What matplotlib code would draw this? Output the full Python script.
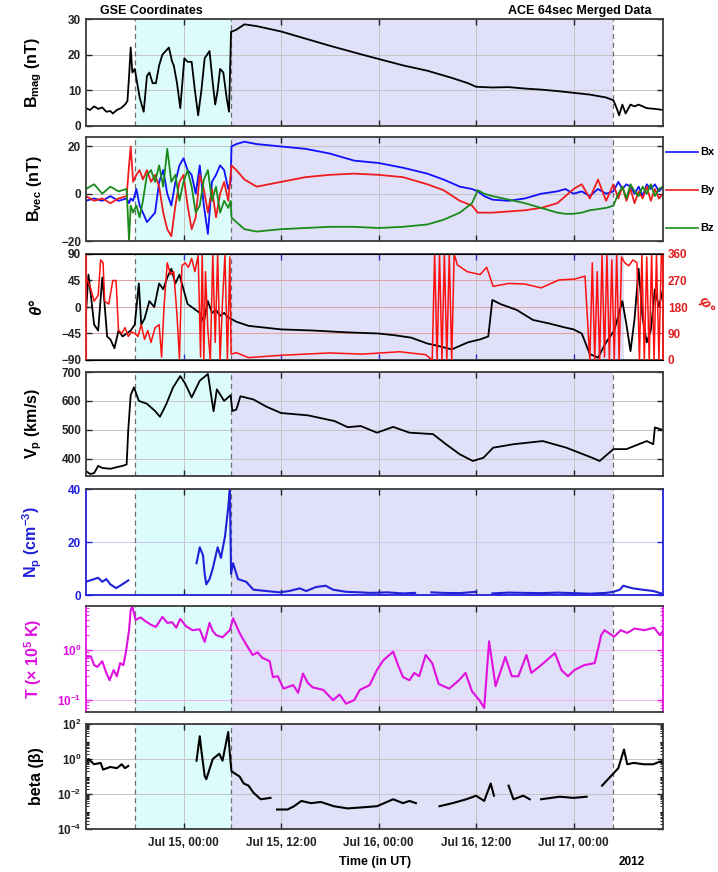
import numpy as np
import matplotlib
matplotlib.use('Agg')
import matplotlib.pyplot as plt
import matplotlib.dates as mdates
from matplotlib.lines import Line2D
from matplotlib.ticker import NullFormatter, LogLocator

plt.rcParams['font.family'] = ['Liberation Sans', 'DejaVu Sans']
plt.rcParams['font.weight'] = 'bold'
plt.rcParams['axes.labelweight'] = 'bold'
plt.rcParams['mathtext.default'] = 'regular'

# hours after 2012-07-14 12:00 UT
base = np.datetime64('2012-07-14T12:00')
t_end = 71.0
shock_t = 6.0
mc_start = 17.85
mc_end = 64.9

def hrs(h):
    return base + (np.asarray(h, float) * 3600).astype('timedelta64[s]')

# ---- data ----
bmag_t = [0, 0.5, 1, 1.5, 2, 2.5, 3, 3.3, 3.8, 4.3, 4.8, 5.1, 5.3, 5.5, 5.7, 6, 6.3, 6.6, 7.1, 7.5,
          7.8, 8.2, 8.6, 9, 9.4, 9.8, 10.2, 10.6, 10.8, 11.2, 11.6, 12.1, 12.5, 13, 13.4, 13.8, 14.2,
          14.6, 15.2, 15.6, 15.9, 16.2, 16.5, 16.9, 17.3, 17.6, 17.85, 18.0, 18.5, 19.5, 21, 24, 27,
          30, 34, 36, 39, 42, 45, 47, 48, 50, 52, 54, 56, 58, 60, 62, 64, 64.9, 65.3, 65.6, 66, 66.4,
          67, 67.5, 68, 69, 70, 71]
bmag = [5, 4.5, 5.5, 4.8, 5.2, 4, 4.2, 3.5, 4.5, 5, 6, 7, 14, 22, 15, 16, 12, 8, 4, 14,
        15, 12, 12, 17, 20, 21, 22, 18, 17, 12, 5, 19, 18, 18, 10, 3, 10,
        19, 21, 12, 6, 10, 16, 15, 8, 4, 26.5, 26.5, 27, 28.5, 28, 26.5, 24.5,
        22.5, 20, 18.8, 17, 15.5, 13.5, 12, 11, 10.8, 10.9, 10.5, 10.2, 9.8, 9.3, 8.8, 8, 7.2, 5, 3, 6, 3.5,
        6, 5.5, 6, 5, 4.8, 4.5]

bvec_t = [0, 1, 2, 3, 4, 5, 5.3, 5.5, 5.8, 6.2, 6.6, 7.0, 7.5, 8.0, 8.5, 9.0, 9.5, 10.0, 10.5, 11.0,
          11.5, 12.0, 12.5, 13.0, 13.5, 14.0, 14.5, 15.0, 15.5, 16.0, 16.5, 17.0, 17.5, 17.8, 17.9,
          18.5, 19.5, 21, 24, 27, 30, 33, 36, 39, 42, 44, 46, 47.5, 48.2, 49, 50, 52, 54, 56, 58, 59,
          60, 61, 62, 63, 64, 64.9, 65.5, 66, 66.5, 67, 67.5, 68, 68.5, 69, 69.5, 70, 70.5, 71]
bx = [-3, -2, -3, -1, -3, -2, -4, -2, -3, 2, -5, -8, -12, -10, -8, 5, 10, 0, -5, 5,
      12, 15, 10, 8, 0, 12, -5, -17, 5, 8, 12, 10, 2, 5, 20,
      21, 22, 21, 20, 19, 17, 14, 13, 11, 8.5, 6, 3, 2, 1, -1, -2.5, -3, -2, 0, 1, 2,
      0, 1, -1, 2, 0, 1, 5, 2, 4, 3, 0, 3, -1, 4, 2, 4, 1, 3]
by = [-1, -3, -2, -4, -2, -1, 12, 20, 5, 8, 10, 6, 10, 5, 8, 3, -8, -15, -18, -5,
      5, 8, -5, -15, -10, 8, 2, -8, 2, -10, 0, 5, -3, 8, 12,
      10, 6, 3, 5, 7, 8, 8.5, 8, 7, 4, 1.5, -3, -5, -8, -8, -8, -7.5, -7, -6, -4, -1,
      2, 4, -2, 6, -3, 4, -2, 3, -3, 2, -4, 1, -2, 3, -3, 2, -2, 0]
bz = [2, 4, 0, 3, 1, 2, -20, -5, -8, -5, -10, -3, 8, 10, 5, 12, 3, 19, 5, 8,
      -3, 5, 10, 3, -8, -5, 6, 10, -3, 3, -8, -3, -6, -3, -10,
      -12, -15, -16, -15, -14.5, -14, -14, -14.5, -14, -13, -11, -8, -4, 1.5, 0, -1, -2.5, -4, -6, -8, -8.5,
      -8.5, -8, -7, -6.5, -6, -5, 0, 3, -2, 4, 1, -1, 3, 0, 4, -1, 2, 3]

theta_t = [0, 0.3, 0.6, 1, 1.5, 2, 2.2, 2.6, 3, 3.5, 4, 4.5, 5, 5.5, 6, 6.5, 6.8, 7.2, 7.8, 8.4,
           9, 9.5, 10, 10.5, 11, 11.5, 12, 12.5, 13, 13.5, 14, 14.5, 15, 15.5, 16, 16.5, 17, 17.5,
           17.85, 18.5, 20, 24, 28, 32, 36, 38, 40, 42, 43, 45, 47, 48.5, 49.5, 50, 51, 53, 55, 57,
           59, 60, 61, 62, 63, 64, 65, 66, 66.5, 67, 67.5, 68, 68.5, 69, 69.5, 70, 70.5, 71]
theta = [-10, 55, 20, -30, -40, 50, 20, -50, -55, -70, -40, -50, -45, -40, -30, 40, -30, -20, 10, 0,
         40, 30, 50, 65, 40, 55, 30, 5, 0, -5, -10, -25, 10, -10, -5, -15, -10, -18,
         -20, -25, -32, -38, -40, -43, -45, -48, -52, -62, -65, -72, -60, -55, -50, 12, 5, -5, -22, -28,
         -35, -38, -45, -80, -86, -60, -40, 10, -30, -75, -20, 65, -20, -60, -40, 30, 0, 30]

phi_t = [0, 0.5, 1, 1.5, 1.8, 2.1, 2.3, 2.8, 3.3, 3.7, 4.0, 4.4, 4.8, 5.2, 5.6, 6.0, 6.4, 6.8, 7.2, 7.6,
         8.0, 8.5, 9.0, 9.3, 9.6, 10.0, 10.4, 10.8, 11.2, 11.5, 11.8, 12.2, 12.6, 13.0, 13.4, 13.8,
         14.1, 14.3, 14.5, 14.7, 15.0, 15.3, 15.6, 15.9, 16.2, 16.5, 16.8, 17.1, 17.4, 17.7, 17.85,
         18.5, 20, 24, 30, 34, 38.6, 41.8, 42.6, 42.9, 43.2, 43.5, 43.8, 44.1, 44.4, 44.7, 45.0, 45.3,
         45.7, 46.9, 48.5, 49.3, 50.1, 52, 54, 56, 58.2, 60.2, 61.4, 62.0, 62.3, 62.6, 62.9, 63.2,
         63.5, 63.8, 64.1, 64.4, 64.7, 65.0, 65.3, 65.6, 65.9, 66.3, 66.8, 67.3, 67.8, 68.1, 68.4,
         68.7, 69.0, 69.3, 69.6, 69.9, 70.2, 70.5, 70.8, 71]
phi = [280, 250, 200, 220, 340, 330, 200, 190, 270, 270, 100, 90, 110, 80, 95, 90, 80, 120, 70, 100,
       60, 110, 120, 10, 180, 330, 290, 300, 150, 5, 320, 330, 315, 345, 300, 355,
       10, 360, 0, 300, 100, 0, 360, 60, 360, 0, 200, 360, 0, 350, 20,
       25, 8, 16, 24, 20, 28, 18, 0, 360, 0, 360, 0, 360, 0, 360, 0, 360,
       323, 300, 290, 315, 250, 260, 258, 245, 272, 275, 285, 0, 330, 0, 300, 0,
       360, 10, 360, 0, 340, 0, 360, 0, 350, 330, 320, 340, 330, 0, 360,
       0, 350, 0, 360, 0, 360, 0, 360, 320]

vp_t = [0, 0.5, 1, 1.5, 2, 3, 4, 4.5, 5, 5.2, 5.5, 5.9, 6.5, 7.5, 8.5, 9.1, 9.9, 10.7, 11.6, 12.2,
        13, 14, 15, 15.7, 16.1, 17, 17.8, 18, 18.5, 19, 20.6, 22.2, 24, 27.3, 30.6, 32.2, 33.8, 35.8,
        37.8, 39.8, 42.7, 44.3, 46, 47.6, 48.9, 50.1, 52.6, 56.2, 59.1, 62.3, 63.2, 64.9, 66.5, 69,
        69.8, 70, 70.9]
vp = [357, 347, 350, 375, 368, 365, 372, 375, 380, 500, 620, 647, 600, 590, 565, 545, 590, 646, 686, 660,
      612, 670, 693, 564, 640, 600, 620, 565, 570, 616, 605, 580, 558, 550, 530, 509, 513, 490,
      510, 490, 485, 450, 415, 392, 403, 438, 450, 461, 438, 403, 392, 433, 433, 461,
      450, 508, 500]

np_t = [0, 0.5, 1, 1.5, 2, 2.5, 3, 3.7, 4.2, 4.7, 5.2, 5.3, 13.6, 14.0, 14.4, 14.6, 14.8, 15.2, 15.6,
        16.2, 16.6, 17.1, 17.5, 17.7, 17.85, 18.1, 18.7, 19.7, 20.6, 22.2, 23.8, 25, 26.3, 27.1, 28.3,
        29.5, 30.4, 32, 33.7, 35, 37, 39, 40.5, 41, 42.5, 44, 46, 48, 48.5, 50, 52, 54, 56, 58, 60,
        62, 64, 64.9, 65.7, 66.1, 67.3, 68.5, 69.8, 70.9]
np_val = [5, 5.5, 6, 6.5, 5, 6, 4, 2.6, 3.5, 4.5, 5.5, np.nan, 12, 18, 15, 8, 4, 6, 10,
          18, 14, 22, 33, 40, 8, 12, 6, 5, 2, 1.5, 1, 1.5, 2.5, 1.5, 3,
          3.5, 2, 1.2, 1, 0.8, 1, 0.6, 0.8, np.nan, 1, 0.8, 0.7, 1.2, np.nan, 0.6, 0.9, 0.8, 0.7, 0.9, 0.7,
          0.5, 0.8, 1.2, 2, 3.5, 2.5, 2, 1.5, 0.5]

temp_t = [0, 0.6, 1.0, 1.4, 2.0, 2.5, 2.9, 3.4, 3.8, 4.2, 4.6, 4.9, 5.3, 5.5, 5.7, 6.1, 6.7, 7.3, 8.0,
          8.6, 9.4, 10.0, 10.6, 11.1, 11.6, 12.3, 13.1, 14.0, 14.6, 15.2, 15.6, 16.0, 16.8, 17.7, 18.1,
          18.9, 19.7, 20.5, 21.1, 21.7, 22.6, 23.0, 23.6, 24.3, 25.5, 26.1, 26.7, 27.3, 27.9, 29.2,
          30.4, 31.2, 32, 33, 33.7, 34.9, 35.8, 36.6, 37.8, 38.4, 39, 39.8, 40.4, 41, 41.8, 42.6, 43.4,
          44.7, 45.9, 46.7, 47.5, 48.4, 49, 49.6, 50.4, 51.6, 52.4, 53.2, 54.2, 54.8, 56, 57.7, 58.5,
          59.3, 60.1, 61.3, 62.6, 63.4, 63.8, 65, 65.8, 66.6, 67.5, 68.7, 69.9, 70.6, 71]
temp = [0.73, 0.75, 0.5, 0.46, 0.6, 0.35, 0.25, 0.4, 0.3, 0.55, 0.5, 0.9, 2.5, 6.3, 7.5, 4, 4.5, 3.8, 3.2,
        2.9, 4.6, 3.5, 3.6, 2.8, 4.2, 3, 2.5, 2.6, 1.46, 3.5, 2.4, 2, 1.8, 2.5, 4.3,
        2.2, 1.3, 0.8, 0.9, 0.7, 0.6, 0.29, 0.3, 0.17, 0.2, 0.14, 0.34, 0.22, 0.18, 0.16,
        0.1, 0.13, 0.085, 0.1, 0.16, 0.2, 0.4, 0.63, 0.93, 0.5, 0.29, 0.25, 0.35, 0.3, 0.8, 0.55, 0.21,
        0.17, 0.25, 0.35, 0.15, 0.1, 0.07, 1.5, 0.19, 0.73, 0.3, 0.3, 0.8, 0.35, 0.5, 0.87, 0.4,
        0.3, 0.4, 0.5, 0.55, 2, 2.5, 1.85, 2.5, 2.2, 2.7, 2.5, 2.8, 2, 2.4]

beta_t = [0, 0.3, 1, 1.8, 2.1, 3, 3.8, 4.4, 4.8, 5.2, 5.3, 13.6, 14, 14.2, 14.6, 14.8, 15.6, 16.4, 16.8,
          17.5, 17.7, 17.9, 18.3, 18.9, 19.4, 20, 20.6, 21.5, 22.7, 23.2, 23.5, 24.8, 25.6, 26.5, 27.7,
          28.9, 30.5, 32.2, 33.8, 35.8, 37.8, 39, 39.8, 40.6, 40.8, 43.5, 45.1, 46.8, 48, 49, 49.8,
          50.2, 50.4, 52, 52.6, 53.8, 54.6, 55, 56, 58.3, 60, 61.6, 62, 63.5, 64.1, 64.9, 65.5, 66.2,
          66.6, 67.4, 68.6, 69.8, 70.6, 71]
beta = [0.8, 1, 0.5, 0.6, 0.25, 0.35, 0.3, 0.5, 0.3, 0.4, np.nan, 0.8, 20, 3, 0.11, 0.07, 1, 2, 0.8,
        35, 2, 0.2, 0.15, 0.1, 0.04, 0.03, 0.012, 0.005, 0.006, np.nan, 0.0013, 0.0013, 0.002, 0.004, 0.003,
        0.0035, 0.002, 0.0015, 0.0017, 0.002, 0.005, 0.003, 0.004, 0.003, np.nan, 0.002, 0.003, 0.005, 0.008, 0.004, 0.04,
        0.008, np.nan, 0.03, 0.005, 0.008, 0.005, np.nan, 0.005, 0.007, 0.006, 0.007, np.nan, 0.03, 0.06, 0.15, 0.3, 3.5,
        0.5, 0.6, 0.5, 0.5, 0.7, 0.6]

tick_hours = [12, 24, 36, 48, 60]

# ---- figure ----
fig = plt.figure(figsize=(7.18, 8.72), dpi=100)
W, H = 718.0, 872.0
left, right = 86, 663
boxes = [(19, 126), (137, 241), (254, 360), (372, 476), (489, 595), (606, 712), (724, 829)]
axes = []
for top, bot in boxes:
    ax = fig.add_axes([left / W, 1 - bot / H, (right - left) / W, (bot - top) / H])
    axes.append(ax)

cyan = '#dcfcfc'
lav = '#e0e0f8'
grid_c = '#c4c4c4'
frame_c = '#3a3a3a'

for i, ax in enumerate(axes):
    end = 66.2 if i == 2 else mc_end
    ax.axvspan(hrs(shock_t), hrs(mc_start), color=cyan, zorder=0, lw=0)
    ax.axvspan(hrs(mc_start), hrs(end), color=lav, zorder=0, lw=0)
    lines = [shock_t, mc_start] if i == 2 else [shock_t, mc_start, mc_end]
    for h in lines:
        ax.axvline(hrs(h), color='#6e6e6e', lw=0.9, ls=(0, (4, 3)), zorder=1)
    ax.set_xlim(hrs(0), hrs(t_end))
    ax.set_xticks(hrs(tick_hours))
    ax.xaxis.set_major_formatter(mdates.DateFormatter('%b %d, %H:%M'))
    ax.grid(True, color=grid_c, lw=0.7, zorder=1)
    ax.set_axisbelow(True)
    ax.tick_params(direction='in', top=True, right=True, length=4, width=1.0,
                   labelsize=8.5, colors='#222222')
    for s in ax.spines.values():
        s.set_color(frame_c)
        s.set_linewidth(1.3)
    if i < 6:
        ax.tick_params(labelbottom=False)
    ax.yaxis.set_label_coords(-0.072, 0.5)

lw_main = 1.3

# 1 Bmag
ax = axes[0]
ax.plot(hrs(bmag_t), bmag, color='black', lw=lw_main)
ax.set_ylim(0, 30)
ax.set_yticks([0, 10, 20, 30])
ax.set_ylabel('B$_{mag}$ (nT)', fontsize=11.5)

# 2 Bvec
ax = axes[1]
cols = ['#1010ff', '#ee1c1c', '#1a8a1a']
ax.plot(hrs(bvec_t), bx, color=cols[0], lw=lw_main)
ax.plot(hrs(bvec_t), by, color=cols[1], lw=lw_main)
ax.plot(hrs(bvec_t), bz, color=cols[2], lw=lw_main)
ax.set_ylim(-20, 24)
ax.set_yticks([-20, 0, 20])
ax.set_ylabel('B$_{vec}$ (nT)', fontsize=11.5)
for name, c, yp in zip(['Bx', 'By', 'Bz'], cols, [152, 190, 228]):
    fig.add_artist(Line2D([666 / W, 698 / W], [1 - yp / H, 1 - yp / H], color=c, lw=1.2))
    fig.text(700 / W, 1 - yp / H, name, fontsize=8, va='center', ha='left')

# 3 theta / phi
ax = axes[2]
ax.plot(hrs(theta_t), theta, color='black', lw=lw_main, zorder=3)
ax.set_ylim(-90, 90)
ax.set_yticks([-90, -45, 0, 45, 90])
ax.set_ylabel('θ°', fontsize=12, style='italic')
ax.grid(axis='y', color='#e0a0a0')
ax.tick_params(axis='x', colors='#3030d0')
ax.spines['left'].set_color('#e02020')
ax.spines['right'].set_color('#e02020')
axr = ax.twinx()
axr.plot(hrs(phi_t), phi, color='#ff1010', lw=1.1)
axr.set_ylim(0, 360)
axr.set_yticks([0, 90, 180, 270, 360])
axr.tick_params(direction='in', length=4, labelsize=8.5, colors='#e02020')
axr.spines['right'].set_color('#e02020')
axr.spines['left'].set_color('#e02020')
axr.spines['right'].set_linewidth(1.3)
axr.set_ylabel('φ°', fontsize=11, style='italic', color='#e02020', rotation=300)
axr.yaxis.set_label_coords(1.085, 0.55)
axr.set_xlim(hrs(0), hrs(t_end))

# 4 Vp
ax = axes[3]
ax.plot(hrs(vp_t), vp, color='black', lw=lw_main)
ax.set_ylim(340, 700)
ax.set_yticks([400, 500, 600, 700])
ax.set_ylabel('V$_p$ (km/s)', fontsize=11.5)

# 5 Np
ax = axes[4]
blue = '#2020d8'
ax.plot(hrs(np_t), np_val, color=blue, lw=1.5)
ax.set_ylim(0, 40)
ax.set_yticks([0, 20, 40])
ax.set_ylabel('N$_p$ (cm$^{-3}$)', fontsize=11.5, color=blue)
ax.tick_params(axis='y', colors=blue)
ax.grid(axis='y', color='#c8c8f0')
for s in ['left', 'right', 'bottom']:
    ax.spines[s].set_color(blue)

# 6 T
ax = axes[5]
mag = '#e010e0'
ax.plot(hrs(temp_t), temp, color=mag, lw=1.5)
ax.set_yscale('log')
ax.set_ylim(0.058, 7.6)
ax.set_ylabel('T (× 10$^5$ K)', fontsize=11.5, color=mag)
ax.tick_params(axis='y', which='both', colors=mag, direction='in', right=True)
ax.grid(axis='y', color='#f0b0f0')
ax.grid(axis='y', which='minor', visible=False)
ax.spines['left'].set_color(mag)
ax.spines['right'].set_color(mag)

# 7 beta
ax = axes[6]
ax.plot(hrs(beta_t), beta, color='black', lw=1.5)
ax.set_yscale('log')
ax.set_ylim(1e-4, 1e2)
ax.set_yticks([1e-4, 1e-2, 1e0, 1e2])
ax.yaxis.set_minor_locator(LogLocator(base=10, subs=np.arange(1, 10), numticks=20))
ax.yaxis.set_minor_formatter(NullFormatter())
ax.tick_params(axis='y', which='both', direction='in', right=True)
ax.set_ylabel('beta (β)', fontsize=11.5)
ax.tick_params(axis='x', labelsize=8.5, pad=6)

# titles and annotations
fig.text(100 / W, 1 - 11 / H, 'GSE Coordinates', fontsize=9, ha='left', va='center')
fig.text(652 / W, 1 - 11 / H, 'ACE 64sec Merged Data', fontsize=9, ha='right', va='center')
fig.text(375 / W, 1 - 862 / H, 'Time (in UT)', fontsize=9, ha='center', va='center')
fig.text(632 / W, 1 - 862 / H, '2012', fontsize=8.5, ha='center', va='center')

fig.savefig('out.png', dpi=100)
